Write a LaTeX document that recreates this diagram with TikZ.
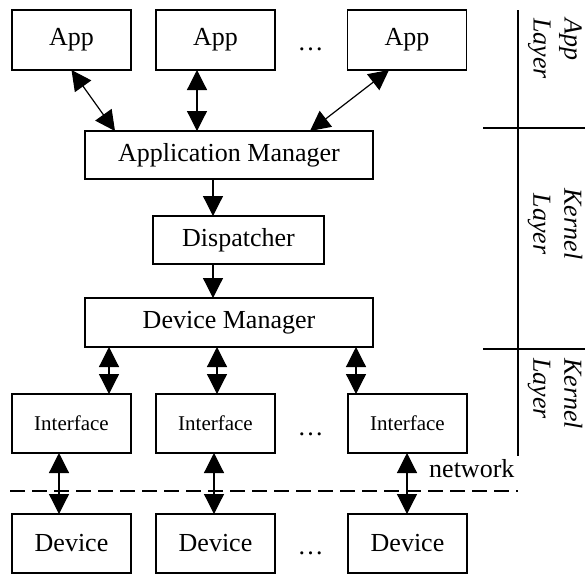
\documentclass[tikz,border=0pt]{standalone}
\usepackage{fontspec}
\setmainfont{Liberation Serif}
\usetikzlibrary{arrows.meta}

\tikzset{
  box/.style={draw, line width=1.2pt, inner sep=0pt, outer sep=0pt,
    minimum width=119pt, minimum height=60pt, font=\fontsize{26}{31}\selectfont},
  widebox/.style={box, minimum width=288pt, minimum height=48pt},
  link/.style={line width=1.2pt, -{Triangle[length=20pt,width=20pt]}},
  dlink/.style={line width=1.2pt, {Triangle[length=20pt,width=20pt]}-{Triangle[length=20pt,width=20pt]}},
  layer/.style={font=\fontsize{26}{31}\selectfont\itshape, rotate=-90, inner sep=0pt},
  txt/.style={font=\fontsize{26}{31}\selectfont, inner sep=0pt},
}

\begin{document}
\begin{tikzpicture}[x=1pt,y=-1pt]
    \useasboundingbox (0,0) rectangle (585,574);
    % App layer
    \foreach \i/\x in {1/71.5,2/215.5,3/407} {
        \node[box] (app\i) at (\x,40) {App};
    }
    \node[txt, anchor=base] (appdots) at (310.5,50) {\dots};
    % Kernel layer
    \node[widebox] (am) at (229,155) {Application Manager};
    \node[box, minimum width=171pt, minimum height=48pt] (disp) at (238.5,240) {Dispatcher};
    \node[widebox, minimum height=49pt] (dm) at (229,322.5) {Device Manager};
    % interfaces and devices
    \foreach \i/\x in {1/71.5,2/215.5,3/407.5} {
        \node[box, minimum height=59pt, font=\fontsize{21}{25}\selectfont] (if\i) at (\x,423.5) {Interface};
        \node[box, minimum height=59pt] (dev\i) at (\x,543.5) {Device};
    }
    \node[txt, anchor=base] (ifdots) at (310.5,435) {\dots};
    \node[txt, anchor=base] (devdots) at (310.5,554) {\dots};
    % arrows
    \draw[dlink] (app1.south) -- ([xshift=30pt]am.north west);
    \draw[dlink] ([xshift=-18.5pt]app2.south) -- ([xshift=-18.5pt]app2.south |- am.north);
    \draw[dlink] ([xshift=-18pt]app3.south) -- ([xshift=-63pt]am.north east);
    \draw[link] ([xshift=-16pt]am.south) -- ([xshift=-16pt]am.south |- disp.north);
    \draw[link] ([xshift=-25.5pt]disp.south) -- ([xshift=-25.5pt]disp.south |- dm.north);
    \foreach \i/\dx in {1/-120,2/-12,3/127} {
        \draw[dlink] ([xshift=\dx pt]dm.south) -- ([xshift=\dx pt]dm.south |- if\i.north);
    }
    \foreach \i/\dx in {1/-12.5,2/-1.5,3/-0.5} {
        \draw[dlink] ([xshift=\dx pt]if\i.south) -- ([xshift=\dx pt]if\i.south |- dev\i.north);
    }
    % network
    \coordinate (netleft) at (10,491);
    \coordinate (netright) at (518,491);
    \draw[line width=1.1pt, dash pattern=on 15pt off 7pt] (netleft) -- (netright);
    \node[txt, anchor=base west] (net) at (429,477) {network};
    % layer separators
    \coordinate (septop) at (518,10);
    \coordinate (sepbot) at (518,456);
    \coordinate (cut1l) at (483,128);
    \coordinate (cut1r) at (585,128);
    \coordinate (cut2l) at (483,349);
    \coordinate (cut2r) at (585,349);
    \draw[line width=1.2pt] (septop) -- (sepbot);
    \draw[line width=1.2pt] (cut1l) -- (cut1r);
    \draw[line width=1.2pt] (cut2l) -- (cut2r);
    \node[layer, anchor=west, align=left] (applayer) at (555,18) {App\\Layer};
    \node[layer, align=center] (kernlayer) at (555,224) {Kernel\\Layer};
    \node[layer, anchor=west, align=left] (kernlayer2) at (555,358) {Kernel\\Layer};
\end{tikzpicture}
\end{document}
